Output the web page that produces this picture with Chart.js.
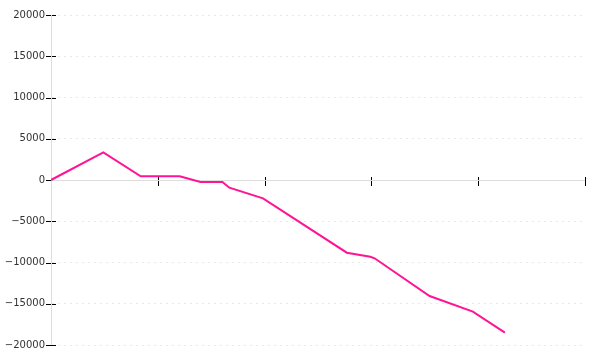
<!DOCTYPE html>
<html><head><meta charset="utf-8">
<script src="https://cdn.jsdelivr.net/npm/chart.js@4"></script>
<style>html,body{margin:0;padding:0;background:#fff}#wrap{width:600px;height:360px}</style>
</head><body><div id="wrap"><canvas id="c" width="600" height="360"></canvas></div>
<script>
const xValues = [0, 4.9, 8.4, 12.05, 14.0, 16.05, 16.7, 19.85, 27.7, 29.9, 30.3, 35.45, 39.5, 42.5];
const yValues = [0, 3350, 450, 450, -240, -240, -930, -2220, -8810, -9300, -9490, -14060, -15960, -18510];
const xTicks = [0, 10, 20, 30, 40, 50];
const yTicks = [-20000, -15000, -10000, -5000, 0, 5000, 10000, 15000, 20000];
const yTickLabels = ['\u221220000', '\u221215000', '\u221210000', '\u22125000', '0', '5000', '10000', '15000', '20000'];

const tickMarks = {
  id: 'tickMarks',
  beforeDatasetsDraw(chart) {
    const {ctx, scales: {x, y}} = chart;
    ctx.save();
    ctx.setLineDash([]);
    ctx.strokeStyle = '#000';
    ctx.lineWidth = 1;
    const y0 = Math.round(y.getPixelForValue(0)) + 0.5;
    const xl = Math.round(x.left) + 0.5;
    ctx.beginPath();
    x.ticks.forEach(t => {
      const px = Math.round(x.getPixelForValue(t.value)) + 0.5;
      ctx.moveTo(px, y0 - 3.5); ctx.lineTo(px, y0 + 5.5);
    });
    y.ticks.forEach(t => {
      const py = Math.round(y.getPixelForValue(t.value)) + 0.5;
      ctx.moveTo(xl - 5.5, py); ctx.lineTo(xl + 4.5, py);
    });
    ctx.stroke();
    // axis lines drawn back over the tick marks
    ctx.strokeStyle = '#dddddd';
    ctx.beginPath();
    ctx.moveTo(xl, y.top); ctx.lineTo(xl, y.bottom);
    ctx.moveTo(x.left, y0); ctx.lineTo(x.right, y0);
    ctx.stroke();
    ctx.restore();
  }
};

new Chart(document.getElementById('c'), {
  type: 'line',
  data: {
    datasets: [{
      data: xValues.map((v, i) => ({x: v, y: yValues[i]})),
      borderColor: '#ff1493',
      borderWidth: 2,
      pointRadius: 0,
      tension: 0,
      fill: false
    }]
  },
  options: {
    responsive: false,
    animation: false,
    events: [],
    layout: {padding: {top: 15, right: 15, bottom: 15, left: 0}},
    plugins: {legend: {display: false}, tooltip: {enabled: false}},
    scales: {
      x: {
        type: 'linear',
        position: {y: 0},
        min: xTicks[0], max: xTicks[xTicks.length - 1],
        afterBuildTicks: s => { s.ticks = xTicks.map(v => ({value: v})); },
        ticks: {display: false},
        grid: {display: false, drawTicks: false},
        border: {display: true, color: '#dddddd', width: 1}
      },
      y: {
        type: 'linear',
        min: yTicks[0], max: yTicks[yTicks.length - 1],
        afterBuildTicks: s => { s.ticks = yTicks.map(v => ({value: v})); },
        afterFit: s => { s.width = 51; },
        ticks: {
          autoSkip: false,
          padding: 6,
          color: '#333',
          font: {family: 'DejaVu Sans', size: 10},
          callback: (v, i) => yTickLabels[i]
        },
        grid: {
          drawTicks: false,
          color: c => (c.tick && c.tick.value === 0) ? 'rgba(0,0,0,0)' : '#e8e8e8',
          lineWidth: 1
        },
        border: {display: true, color: '#dddddd', width: 1, dash: [2, 4]}
      }
    }
  },
  plugins: [tickMarks]
});
</script></body></html>
